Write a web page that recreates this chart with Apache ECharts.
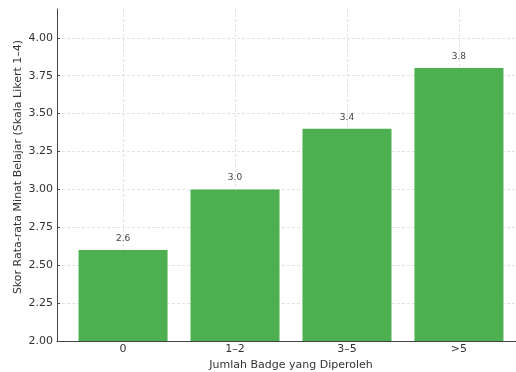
<!DOCTYPE html>
<html>
<head>
<meta charset="utf-8">
<script src="https://cdn.jsdelivr.net/npm/echarts@6/dist/echarts.min.js"></script>
<style>
  html, body { margin: 0; padding: 0; background: #fff; }
  #chart { width: 516px; height: 372px; }
</style>
</head>
<body>
<div id="chart"></div>
<script>
  const categories = ['0', '1\u20132', '3\u20135', '>5']
  const scores = [2.6, 3.0, 3.4, 3.8]
  const yTicks = [2.0, 2.25, 2.5, 2.75, 3.0, 3.25, 3.5, 3.75, 4.0]

  const font = 'DejaVu Sans'
  const chart = echarts.init(document.getElementById('chart'))

  const barData = scores.map((v, i) => [i, v])
  const catIndex = categories.map((c, i) => i)

  chart.setOption({
    animation: false,
    grid: {
      left: 57,
      right: -9,
      top: 9,
      bottom: 31,
      outerBoundsMode: 'none'
    },
    xAxis: {
      type: 'value',
      min: -0.59,
      max: 3.59,
      name: 'Jumlah Badge yang Diperoleh',
      nameLocation: 'middle',
      nameGap: 16,
      nameTextStyle: { fontFamily: font, fontSize: 11, color: '#333' },
      axisLine: { onZero: false, lineStyle: { color: '#444', width: 1 } },
      axisTick: {
        customValues: catIndex,
        inside: true,
        length: 3,
        lineStyle: { color: '#444' }
      },
      axisLabel: {
        customValues: catIndex,
        margin: 3,
        fontFamily: font,
        fontSize: 11,
        color: '#333',
        formatter: v => categories[Math.round(v)]
      },
      splitLine: {
        show: true,
        lineStyle: { color: '#dcdcdc', type: [3, 2], width: 0.8 }
      }
    },
    yAxis: {
      type: 'value',
      min: 2,
      max: 4.19,
      name: 'Skor Rata-rata Minat Belajar (Skala Likert 1\u20134)',
      nameLocation: 'middle',
      nameGap: 33,
      nameMoveOverlap: false,
      nameTextStyle: { fontFamily: font, fontSize: 11, color: '#333', padding: [0, 0, 0, 16] },
      axisLine: { show: true, onZero: false, lineStyle: { color: '#444', width: 1 } },
      axisTick: {
        show: true,
        customValues: yTicks,
        inside: true,
        length: 3,
        lineStyle: { color: '#444' }
      },
      axisLabel: {
        customValues: yTicks,
        margin: 4,
        fontFamily: font,
        fontSize: 11,
        color: '#333',
        formatter: v => v.toFixed(2)
      },
      splitLine: {
        show: true,
        lineStyle: { color: '#dcdcdc', type: [3, 2], width: 0.8 }
      }
    },
    series: [
      {
        type: 'bar',
        data: barData,
        barWidth: 89,
        itemStyle: { color: '#4caf50' },
        label: {
          show: true,
          position: 'top',
          distance: 7,
          fontFamily: font,
          fontSize: 9,
          color: '#444',
          formatter: p => p.value[1].toFixed(1)
        }
      }
    ]
  })
</script>
</body>
</html>
